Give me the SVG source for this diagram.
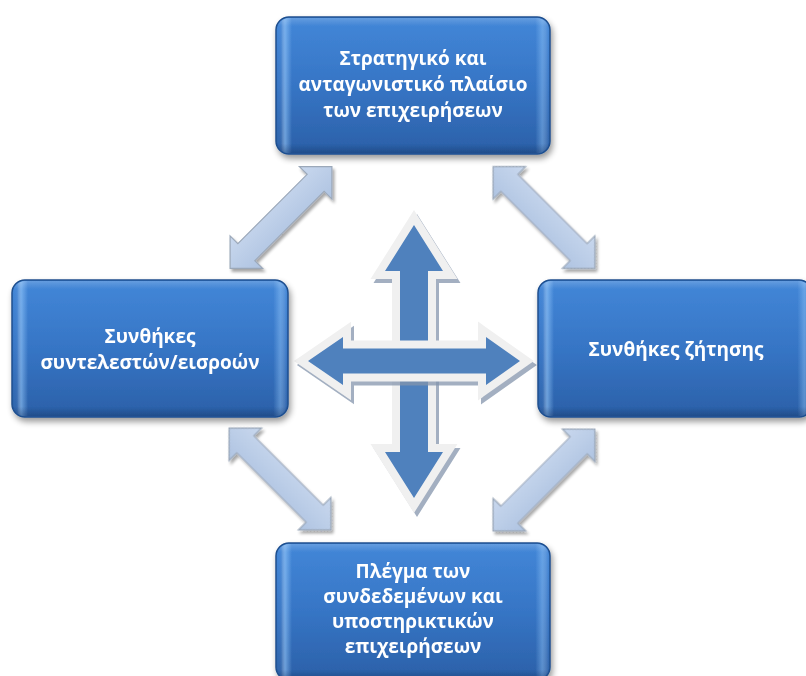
<svg xmlns="http://www.w3.org/2000/svg" width="806" height="676" viewBox="0 0 806 676">
<defs>
  <linearGradient id="boxGrad" x1="0" y1="0" x2="0" y2="1">
    <stop offset="0" stop-color="#4387d8"/>
    <stop offset="0.5" stop-color="#3675c5"/>
    <stop offset="1" stop-color="#2b60a8"/>
  </linearGradient>
  <linearGradient id="bevelH" x1="0" y1="0" x2="1" y2="0">
    <stop offset="0" stop-color="#ffffff" stop-opacity="0"/>
    <stop offset="0.015" stop-color="#ffffff" stop-opacity="0.05"/>
    <stop offset="0.03" stop-color="#9fd0ff" stop-opacity="0.55"/>
    <stop offset="0.055" stop-color="#9fd0ff" stop-opacity="0"/>
    <stop offset="0.95" stop-color="#9fd0ff" stop-opacity="0"/>
    <stop offset="0.975" stop-color="#9fd0ff" stop-opacity="0.4"/>
    <stop offset="1" stop-color="#ffffff" stop-opacity="0"/>
  </linearGradient>
  <linearGradient id="bevelV" x1="0" y1="0" x2="0" y2="1">
    <stop offset="0" stop-color="#ffffff" stop-opacity="0.18"/>
    <stop offset="0.06" stop-color="#ffffff" stop-opacity="0"/>
    <stop offset="0.93" stop-color="#102a55" stop-opacity="0"/>
    <stop offset="1" stop-color="#102a55" stop-opacity="0.35"/>
  </linearGradient>
  <linearGradient id="diagGrad" x1="0" y1="0" x2="0" y2="1">
    <stop offset="0" stop-color="#c9d8ee"/>
    <stop offset="1" stop-color="#aec3e1"/>
  </linearGradient>
  <filter id="boxShadow" x="-10%" y="-10%" width="125%" height="130%">
    <feGaussianBlur in="SourceAlpha" stdDeviation="3"/>
    <feOffset dx="2" dy="4" result="b"/>
    <feComponentTransfer><feFuncA type="linear" slope="0.4"/></feComponentTransfer>
    <feMerge><feMergeNode/><feMergeNode in="SourceGraphic"/></feMerge>
  </filter>
  <filter id="arrShadow" x="-20%" y="-20%" width="150%" height="150%">
    <feGaussianBlur in="SourceAlpha" stdDeviation="1.5"/>
    <feOffset dx="2" dy="3" result="b"/>
    <feComponentTransfer><feFuncA type="linear" slope="0.35"/></feComponentTransfer>
    <feMerge><feMergeNode/><feMergeNode in="SourceGraphic"/></feMerge>
  </filter>
  <path id="dArrow" d="M -72 0 L -49 -23 L -49 -12 L 49 -12 L 49 -23 L 72 0 L 49 23 L 49 12 L -49 12 L -49 23 Z"/>
</defs>
<style>
  .box { fill: url(#boxGrad); stroke: #1f4f8f; stroke-width: 1.5; }
  .bh { fill: url(#bevelH); }
  .bv { fill: url(#bevelV); }
  .lbl { font-family: "Open Sans", "Noto Sans", "DejaVu Sans", sans-serif; font-weight: 700; font-size: 19px; fill: #ffffff; text-anchor: middle; }
  .diag { fill: url(#diagGrad); stroke: #9ba8b9; stroke-width: 1.2; stroke-linejoin: miter; }
  .cross { fill: #4f81bd; stroke: #f0f0f0; stroke-width: 16; stroke-linejoin: miter; stroke-miterlimit: 10; paint-order: stroke; }
  .crossSh { fill: #8495ad; stroke: #8495ad; stroke-width: 16; stroke-linejoin: miter; stroke-miterlimit: 10; opacity: 0.75; }
</style>

<g id="connectors">
  <g filter="url(#arrShadow)">
    <use href="#dArrow" class="diag" transform="translate(281 217.5) rotate(-45)"/>
    <use href="#dArrow" class="diag" transform="translate(544 217.5) rotate(45)"/>
    <use href="#dArrow" class="diag" transform="translate(280 479) rotate(45)"/>
    <use href="#dArrow" class="diag" transform="translate(544 480) rotate(-45)"/>
  </g>
  <g id="cross">
    <path class="crossSh" transform="translate(3 4)" d="M 414 225 L 443 271 L 428 271 L 428 452 L 443 452 L 414 498 L 385 452 L 400 452 L 400 271 L 385 271 Z"/>
    <path class="cross" d="M 414 225 L 443 271 L 428 271 L 428 452 L 443 452 L 414 498 L 385 452 L 400 452 L 400 271 L 385 271 Z"/>
    <path class="crossSh" transform="translate(3 4)" d="M 308 361 L 343 337 L 343 348.5 L 486 348.5 L 486 337 L 520 361 L 486 385 L 486 373.5 L 343 373.5 L 343 385 Z"/>
    <path class="cross" d="M 308 361 L 343 337 L 343 348.5 L 486 348.5 L 486 337 L 520 361 L 486 385 L 486 373.5 L 343 373.5 L 343 385 Z"/>
  </g>
</g>

<g id="node-top" filter="url(#boxShadow)">
  <rect class="box" x="276" y="17" width="274" height="137" rx="13"/>
  <rect class="bh" x="277" y="18" width="272" height="135" rx="12"/>
  <rect class="bv" x="277" y="18" width="272" height="135" rx="12"/>
  <text class="lbl" x="413" y="65">Στρατηγικό και</text>
  <text class="lbl" x="413" y="91">ανταγωνιστικό πλαίσιο</text>
  <text class="lbl" x="413" y="117">των επιχειρήσεων</text>
</g>

<g id="node-left" filter="url(#boxShadow)">
  <rect class="box" x="12" y="280" width="276" height="137" rx="13"/>
  <rect class="bh" x="13" y="281" width="274" height="135" rx="12"/>
  <rect class="bv" x="13" y="281" width="274" height="135" rx="12"/>
  <text class="lbl" x="150" y="343">Συνθήκες</text>
  <text class="lbl" x="150" y="369">συντελεστών/εισροών</text>
</g>

<g id="node-right" filter="url(#boxShadow)">
  <rect class="box" x="538" y="280" width="274" height="137" rx="13"/>
  <rect class="bh" x="539" y="281" width="272" height="135" rx="12"/>
  <rect class="bv" x="539" y="281" width="272" height="135" rx="12"/>
  <text class="lbl" x="676" y="356">Συνθήκες ζήτησης</text>
</g>

<g id="node-bottom" filter="url(#boxShadow)">
  <rect class="box" x="276" y="543" width="274" height="137" rx="13"/>
  <rect class="bh" x="277" y="544" width="272" height="135" rx="12"/>
  <rect class="bv" x="277" y="544" width="272" height="135" rx="12"/>
  <text class="lbl" x="413" y="578">Πλέγμα των</text>
  <text class="lbl" x="413" y="603">συνδεδεμένων και</text>
  <text class="lbl" x="413" y="628">υποστηρικτικών</text>
  <text class="lbl" x="413" y="653">επιχειρήσεων</text>
</g>
</svg>
